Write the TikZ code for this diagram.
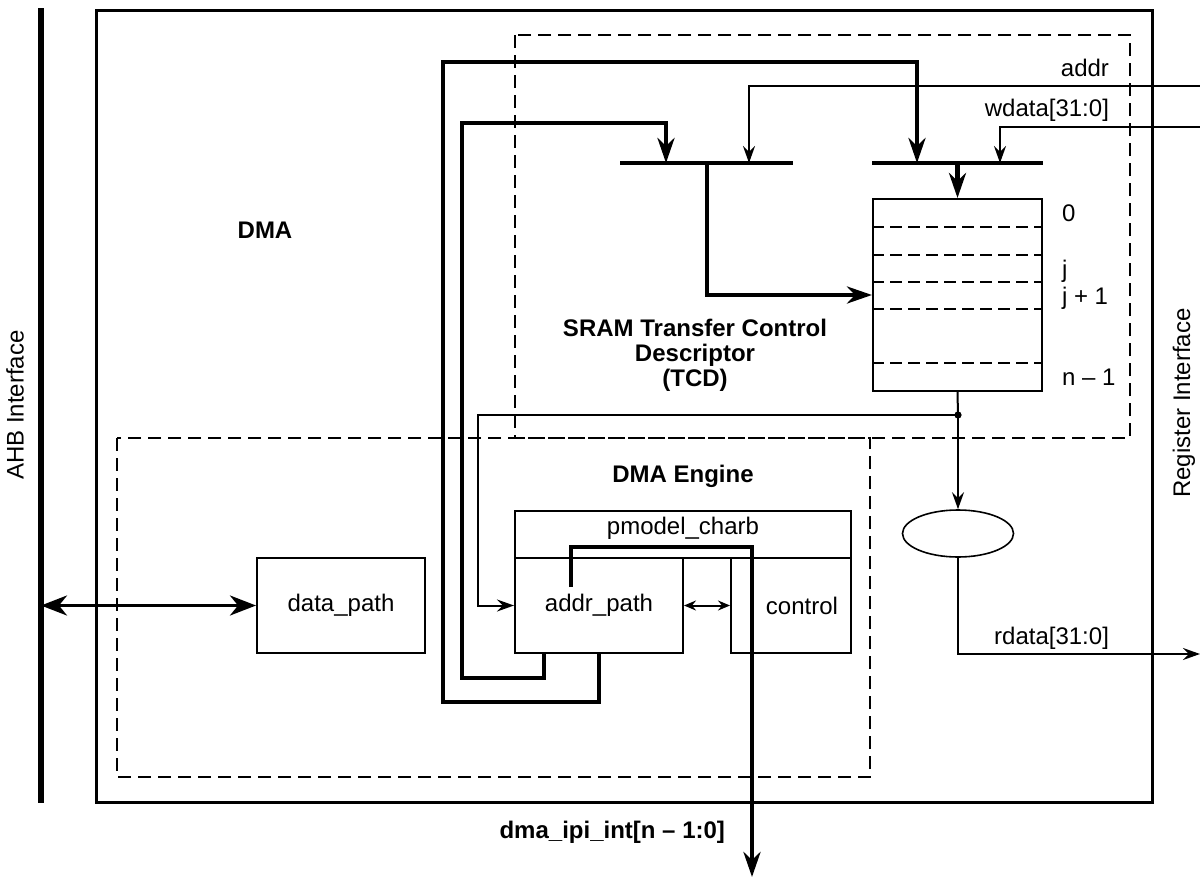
\documentclass[tikz,border=0pt]{standalone}
\usepackage{fontspec}
\setmainfont{Liberation Sans}
\usetikzlibrary{arrows.meta,positioning,shapes.geometric}

\begin{document}
\begin{tikzpicture}[
    x=0.5pt, y=-0.5pt,
    font=\fontsize{12}{12.5}\selectfont,
    box/.style={draw, line width=1pt, inner sep=0pt, minimum height=47.5pt},
    region/.style={line width=1pt, dash pattern=on 6.5pt off 3.5pt},
    rowline/.style={line width=1pt, dash pattern=on 6pt off 3pt},
    bus/.style={line width=2.2pt},
    wire/.style={line width=1pt},
    busarrow/.style={bus, -{Stealth[length=12.5pt, width=8.5pt, inset=4pt]}},
    wirearrow/.style={wire, -{Stealth[length=8.5pt, width=6pt, inset=3pt]}},
    heading/.style={font=\fontsize{12}{12.5}\selectfont\bfseries, align=center}
]
\useasboundingbox (0,0) rectangle (1200,878);

% interfaces and outer block
\coordinate (ahbtop) at (41,8);
\coordinate (ahbbot) at (41,803);
\draw[line width=3pt] (ahbtop) -- (ahbbot);
\node[rotate=90] (ahblabel) at (15,405) {AHB Interface};
\node[rotate=90] (reglabel) at (1184,403) {Register Interface};
\draw[line width=1.5pt] (96,10) rectangle (1152,802);
\node[heading] (dmalabel) at (265,230) {DMA};

% dashed regions
\draw[region] (515,35) rectangle (1130,438);
\draw[region] (117,438) rectangle (870,777);
\node[heading] (tcdlabel) at (695,355) {SRAM Transfer Control\\Descriptor\\(TCD)};
\node[heading, anchor=base] (englabel) at (683,482) {DMA Engine};

% descriptor memory
\node[box, minimum width=84.5pt, minimum height=96pt] (tcd) at (957.5,295) {};
\foreach \y in {227,255,282,309,363}
    \draw[rowline] (tcd.west |- 0,\y) -- (tcd.east |- 0,\y);
\node[anchor=base west] (row0) at (1055,221.5) {0};
\node[anchor=base west] (rowj) at (1055,277) {j};
\node[anchor=base west] (rowjj) at (1055,304) {j + 1};
\node[anchor=base west] (rown) at (1055,385.5) {n -- 1};

% write buses
\coordinate (bar1w) at (620,163);
\coordinate (bar1e) at (793,163);
\coordinate (bar2w) at (872,163);
\coordinate (bar2e) at (1043,163);
\draw[bus] (bar1w) -- (bar1e);
\draw[bus] (bar2w) -- (bar2e);

% engine blocks
\node[box, minimum width=84pt] (data) at (341,605.5) {data\_path};
\node[box, minimum width=84pt] (addr) at (599,605.5) {addr\_path};
\node[box, minimum width=60pt] (control) at (791,605.5) {\hspace*{11pt}control};
\node[box, minimum width=168pt, minimum height=23.5pt] (pmodel) at (683,534.5) {};
\node[anchor=base] (pmodellabel) at (683,534) {pmodel\_charb};
\node[draw, ellipse, line width=0.8pt, inner sep=0pt, minimum width=55.5pt, minimum height=23.5pt] (mux) at (958,533.5) {};

% register side
\coordinate (addrin) at (1200,86);
\coordinate (wdatain) at (1200,127);
\coordinate (rdataout) at (1200,654);
\node[anchor=base east] (addrlabel) at (1116,76) {addr};
\node[anchor=base east] (wdatalabel) at (1116,116) {wdata[31:0]};
\node[anchor=base east] (rdatalabel) at (1116,644) {rdata[31:0]};
\draw[wirearrow] (addrin) -| (749,163);
\draw[wirearrow] (wdatain) -| (1000,163);
\draw[busarrow] (tcd.north |- bar2w) -- (tcd.north);
\draw[busarrow] (707,163) |- (tcd.west);

% read path
\coordinate (tap) at (958,415);
\draw[wire] (tcd.south) -- (tap);
\fill (tap) circle (1.8pt);
\draw[wirearrow] (tap) -- (mux.north);
\draw[wirearrow] (mux.south) |- (rdataout);
\draw[wirearrow] (tap) -| ([xshift=-18pt]addr.west) -- (addr.west);

% address feedback loops
\draw[busarrow] (addr.south) |- (443,702) |- (917,62) -- (917,163);
\draw[busarrow] ([xshift=15pt]addr.south west) |- (462,678) |- (666,123) -- (666,163);

% data and interrupt
\draw[line width=1.6pt, {Stealth[length=13pt, width=10pt, inset=4pt]}-{Stealth[length=13pt, width=10pt, inset=4pt]}] (ahbtop |- data.west) -- (data.west);
\draw[wire, {Stealth[length=6pt, width=5pt, inset=2pt]}-{Stealth[length=6pt, width=5pt, inset=2pt]}] (addr.east) -- (control.west);
\coordinate (intout) at (752,877);
\draw[busarrow] ([xshift=28.5pt, yshift=-15pt]addr.north west) |- (752,547) -- (intout);
\node[heading, anchor=base east] (intlabel) at (732,838) {dma\_ipi\_int[n -- 1:0]};
\end{tikzpicture}
\end{document}
